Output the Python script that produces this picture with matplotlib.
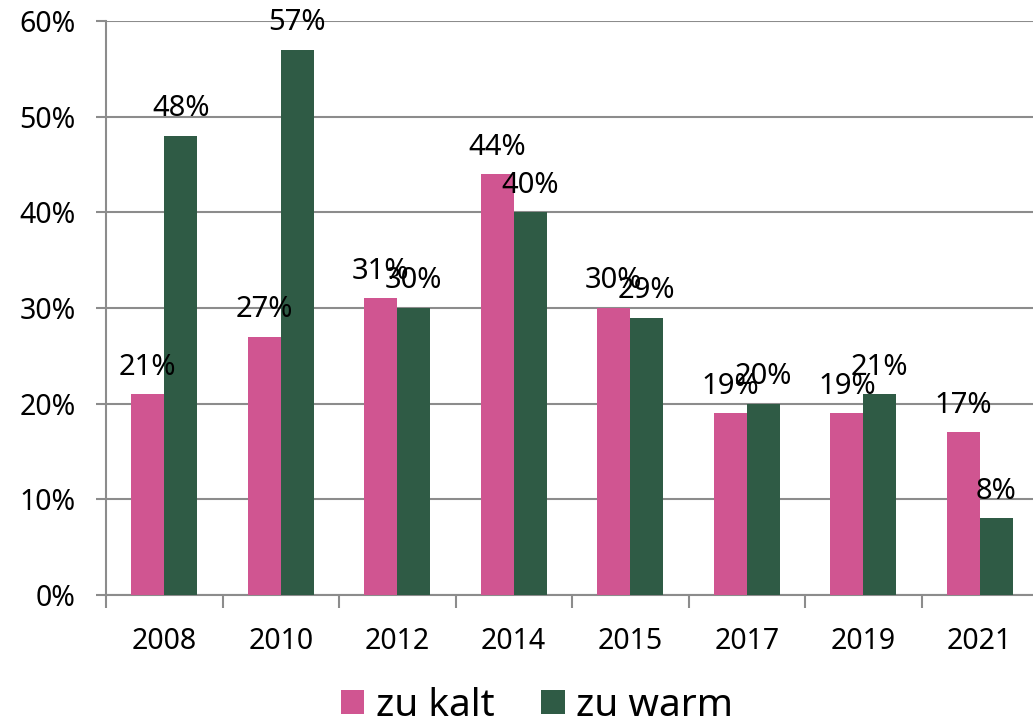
import numpy as np
import matplotlib
matplotlib.use("Agg")
import matplotlib.pyplot as plt
from matplotlib.ticker import PercentFormatter

# data
years = ["2008", "2010", "2012", "2014", "2015", "2017", "2019", "2021"]
zu_kalt = [21, 27, 31, 44, 30, 19, 19, 17]
zu_warm = [48, 57, 30, 40, 29, 20, 21, 8]

PINK = "#D05591"
GREEN = "#2F5B45"
GRID = "#8C8C8C"

plt.rcParams["font.family"] = ["Noto Sans", "DejaVu Sans"]

fig = plt.figure(figsize=(10.33, 7.27), dpi=100)
ax = fig.add_axes([106 / 1033, 1 - 595 / 727, 932 / 1033, (595 - 21) / 727])

x = np.arange(len(years))
w = 0.283
b1 = ax.bar(x - w / 2, zu_kalt, w, color=PINK, label="zu kalt", zorder=3)
b2 = ax.bar(x + w / 2, zu_warm, w, color=GREEN, label="zu warm", zorder=3)

for bars in (b1, b2):
    ax.bar_label(bars, labels=[f"{v:.0f}%" for v in bars.datavalues],
                 padding=9, fontsize=21, zorder=4)

ax.set_ylim(0, 60)
ax.set_xlim(-0.5, len(years) - 0.5)
ax.set_yticks(range(0, 61, 10))
ax.yaxis.set_major_formatter(PercentFormatter(decimals=0))
ax.grid(axis="y", color=GRID, linewidth=1.5, zorder=0)

# category ticks between groups, labels at centres
ax.set_xticks(np.arange(len(years) + 1) - 0.5)
ax.set_xticklabels([])
ax.set_xticks(x, minor=True)
ax.set_xticklabels(years, minor=True, fontsize=20.5)
ax.tick_params(axis="x", which="major", length=9, width=1.5, color=GRID)
ax.tick_params(axis="x", which="minor", length=0, pad=23)
ax.tick_params(axis="y", length=7, width=1.5, color=GRID, labelsize=20.5, pad=15)

for s in ("top", "right"):
    ax.spines[s].set_visible(False)
for s in ("left", "bottom"):
    ax.spines[s].set_color(GRID)
    ax.spines[s].set_linewidth(1.5)

fig.legend(handles=[b1, b2], loc="lower center", bbox_to_anchor=(0.52, -0.045),
           ncol=2, frameon=False, fontsize=28, handlelength=0.6,
           handleheight=0.6, handletextpad=0.3, columnspacing=1.2)

fig.savefig("out.png", dpi=100)
